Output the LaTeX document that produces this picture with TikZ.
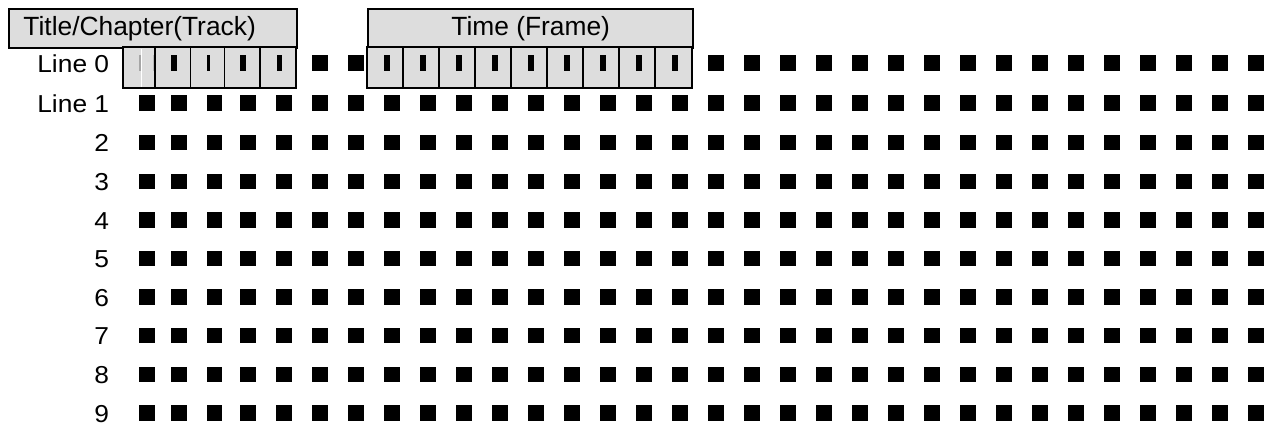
\documentclass[tikz,border=0pt]{standalone}
\usepackage{fontspec}
\setmainfont{Liberation Sans}
\usetikzlibrary{positioning}
\definecolor{Ink}{HTML}{000000}
\definecolor{CellGray}{HTML}{DDDDDD}
\tikzset{
    headbox/.style={rectangle, draw=Ink, fill=CellGray, line width=1.1pt, inner sep=0pt, minimum height=0.78cm, font=\fontsize{15}{18}\selectfont},
    cellline/.style={draw=Ink, fill=CellGray, line width=1.1pt},
    bar/.style={fill=Ink},
    dotsq/.style={rectangle, fill=Ink, inner sep=0pt, minimum size=0.31cm},
    rowlabel/.style={anchor=base east, inner sep=0pt, yscale=0.93, font=\fontsize{15}{18}\selectfont},
}

\begin{document}
\begin{tikzpicture}[x=0.02cm, y=-0.02cm]
    \useasboundingbox (0,0) rectangle (1274,426);

    % Kopfzeilen
    \node[headbox, anchor=north west, minimum width=5.76cm, text width=5.18cm, inner xsep=0.29cm, align=left] (trackhead) at (8,8) {Title/Chapter(Track)};
    \node[headbox, anchor=north west, minimum width=6.5cm, align=center] (framehead) at (367.3,8) {Time (Frame)};

    % Zeile 0: Felder fuer Titel/Kapitel
    \draw[cellline] (122.7,47) rectangle (296,88);
    \foreach \dx in {155,190.5,224.5,260}
        \draw[line width=1.1pt] (\dx,47) -- (\dx,88);
    % Zeile 0: Felder fuer die Zeit
    \draw[cellline] (367.3,47) rectangle (692.3,88);
    \foreach \k in {1,...,8}
        \draw[line width=1.1pt] (367.3+36*\k,47) -- (367.3+36*\k,88);

    % Striche in den Feldern
    \fill[gray!70] (138.7,55) rectangle (140.7,70.7);
    \draw[white, line width=0.6pt] (141.6,48.5) -- (141.6,86.5);
    \fill[gray!55] (152.8,55) rectangle (153.8,70.7);
    \fill[bar] (171,55) rectangle (176.5,70.7);
    \fill[bar] (207.3,55) rectangle (210.3,70.7);
    \fill[bar] (240,55) rectangle (245.5,70.7);
    \fill[bar] (276.5,55) rectangle (282,70.7);
    \foreach \k in {0,...,8}
        \fill[bar] (384+36*\k,55) rectangle (389.5+36*\k,70.7);

    % Zeilenbeschriftung
    \foreach \ry/\txt [count=\r from 0] in {63/Line 0,103/Line 1,142.5/2,181.5/3,220/4,258.5/5,297/6,335.5/7,374.5/8,413/9}
        \node[rowlabel] (lbl-\r) at (109.5,\ry+9.2) {\txt};

    % Bildpunkte
    \foreach \ry [count=\r from 0] in {63,103,142.5,181.5,220,258.5,297,335.5,374.5,413} {
        \foreach \cx [count=\c from 0] in {147,179,214.5,248,284,320,...,1256} {
            \pgfmathtruncatemacro\skipsq{(\r==0)*((\c<5)+(\c>6)*(\c<16))}
            \ifnum\skipsq=0
                \node[dotsq] (sq-\r-\c) at (\cx,\ry) {};
            \fi
        }
    }
\end{tikzpicture}
\end{document}
